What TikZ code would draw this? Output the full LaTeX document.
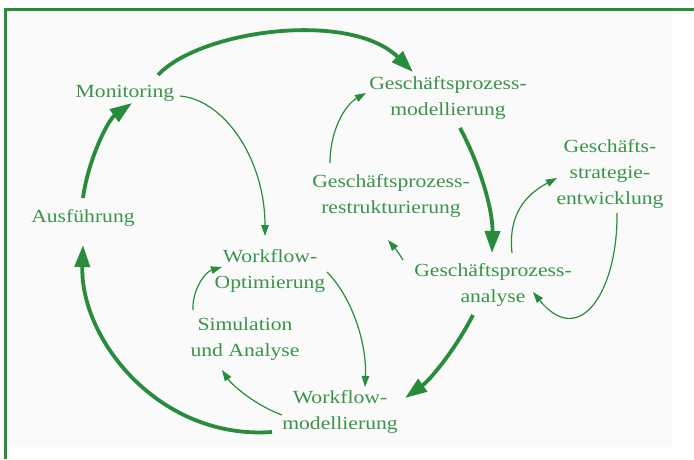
\documentclass[tikz,border=0pt]{standalone}
\usepackage{fontspec}
\setmainfont{Liberation Serif}[FakeStretch=1.17]
\usetikzlibrary{arrows.meta}
\definecolor{linegreen}{RGB}{40,140,60}
\definecolor{textgreen}{RGB}{58,148,72}
\tikzset{
  label/.style={text=textgreen, align=center, inner sep=0pt,
    font=\fontsize{18.5pt}{26pt}\selectfont},
  mainflow/.style={draw=linegreen, line width=3.8pt,
    -{Triangle[length=22pt,width=15pt]}},
  subflow/.style={draw=linegreen, line width=1.2pt,
    -{Triangle[length=11pt,width=7.5pt]}},
}
\begin{document}
\begin{tikzpicture}[x=1pt,y=-1pt]
  \useasboundingbox (0,0) rectangle (694,459);
  % panel background and frame
  \fill[black!2] (5,9) rectangle (672,447);
  \draw[linegreen, line width=3pt] (5.5,459) -- (5.5,9) -- (694,9);

  % process stages
  \node[label] (mon) at (125,93)  {Monitoring};
  \node[label] (aus) at (83,218)  {Ausführung};
  \node[label] (gpm) at (448,98)  {Geschäftsprozess-\\modellierung};
  \node[label] (gpr) at (391,196) {Geschäftsprozess-\\restrukturierung};
  \node[label] (gse) at (610,174) {Geschäfts-\\strategie-\\entwicklung};
  \node[label] (gpa) at (493,285) {Geschäftsprozess-\\analyse};
  \node[label] (wfo) at (270,271) {Workflow-\\Optimierung};
  \node[label] (sim) at (245,339) {Simulation\\und Analyse};
  \node[label] (wfm) at (340,412) {Workflow-\\modellierung};

  % main life cycle
  \draw[mainflow] ([shift={(33,-18)}]mon.center)
    .. controls (200,30) and (350,10) .. ([shift={(-35,-26)}]gpm.center);
  \draw[mainflow] ([shift={(12,30)}]gpm.center)
    .. controls (480,165) and (493,210) .. ([shift={(-1,-32)}]gpa.center);
  \draw[mainflow] ([shift={(-20,30)}]gpa.center)
    .. controls (455,350) and (430,380) .. ([shift={(65,-14)}]wfm.center);
  \draw[mainflow] ([shift={(-68,20)}]wfm.center)
    .. controls (160,440) and (80,340) .. ([shift={(0,27)}]aus.center);
  \draw[mainflow] ([shift={(0,-20)}]aus.center)
    .. controls (88,160) and (108,120) .. ([shift={(7,10)}]mon.center);

  % inner feedback loops
  \draw[subflow] ([shift={(55,3)}]mon.center)
    .. controls (225,100) and (265,160) .. ([shift={(-5,-35)}]wfo.center);
  \draw[subflow] ([shift={(-61,-33)}]gpr.center)
    .. controls (330,130) and (345,105) .. ([shift={(-82,-5)}]gpm.center);
  \draw[subflow] ([shift={(-90,-25)}]gpa.center)
    .. controls (398,252) .. ([shift={(-3,44)}]gpr.center);
  \draw[subflow] ([shift={(19,-32)}]gpa.center)
    .. controls (508,215) and (525,195) .. ([shift={(-53,4)}]gse.center);
  \draw[subflow] ([shift={(7,39)}]gse.center)
    .. controls (618,290) and (580,350) .. ([shift={(40,7)}]gpa.center);
  \draw[subflow] ([shift={(57,1)}]wfo.center)
    .. controls (350,295) and (367,340) .. ([shift={(25,-25)}]wfm.center);
  \draw[subflow] ([shift={(-58,3)}]wfm.center)
    .. controls (255,405) and (232,385) .. ([shift={(-23,31)}]sim.center);
  \draw[subflow] ([shift={(-52,-29)}]sim.center)
    .. controls (192,290) and (205,272) .. ([shift={(-48,-4)}]wfo.center);
\end{tikzpicture}
\end{document}
